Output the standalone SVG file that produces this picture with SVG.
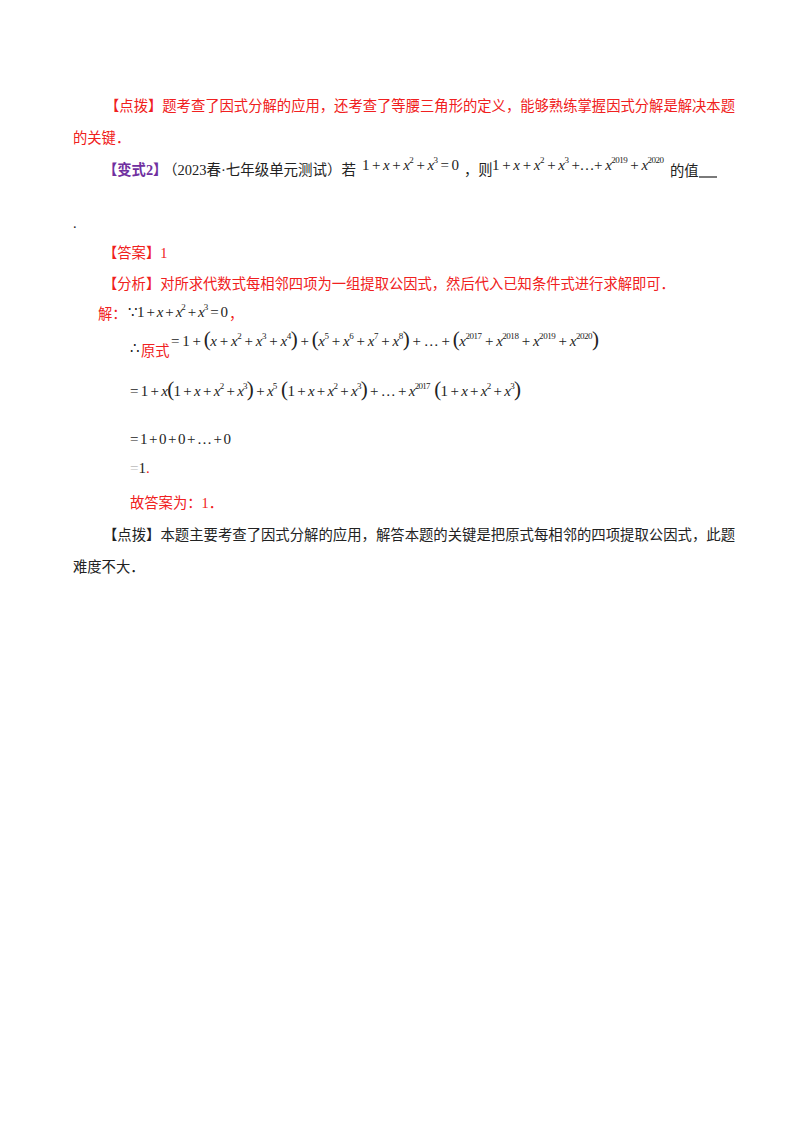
<svg xmlns="http://www.w3.org/2000/svg" width="800" height="1132" viewBox="0 0 800 1132">
<style>
.cn{font-family:"Liberation Serif","Noto Sans CJK SC",serif;font-size:14.3px}
.r{fill:#f02020}
.p{fill:#7030a0;font-weight:bold}
.k{fill:#222}
.m{font-family:"Liberation Serif",serif;font-size:15px;fill:#222}
.i{font-style:italic}
.s{font-size:9px}
.b{font-size:21px}
</style>
<rect width="800" height="1132" fill="#fff"/>
<g id="tip1" class="cn r">
<text x="105" y="111" textLength="630" lengthAdjust="spacingAndGlyphs">【点拨】题考查了因式分解的应用，还考查了等腰三角形的定义，能够熟练掌握因式分解是解决本题</text>
<text x="73" y="143">的关键．</text>
</g>
<g id="variant">
<text class="cn p" x="103" y="175">【变式2】</text>
<text class="cn k" x="163" y="175" textLength="193" lengthAdjust="spacingAndGlyphs">（2023春·七年级单元测试）若</text>
<text class="m" x="362" y="170" textLength="97" lengthAdjust="spacing">1 + <tspan class="i">x</tspan> + <tspan class="i">x</tspan><tspan class="s" dy="-7">2</tspan><tspan dy="7"> + </tspan><tspan class="i">x</tspan><tspan class="s" dy="-7">3</tspan><tspan dy="7"> = 0</tspan></text>
<text class="cn k" x="464" y="175">，则</text>
<text class="m" x="492" y="170" textLength="172" lengthAdjust="spacing">1 + <tspan class="i">x</tspan> + <tspan class="i">x</tspan><tspan class="s" dy="-7">2</tspan><tspan dy="7"> + </tspan><tspan class="i">x</tspan><tspan class="s" dy="-7">3</tspan><tspan dy="7"> +…+ </tspan><tspan class="i">x</tspan><tspan class="s" dy="-7">2019</tspan><tspan dy="7"> + </tspan><tspan class="i">x</tspan><tspan class="s" dy="-7">2020</tspan></text>
<text class="cn k" x="670" y="176">的值</text>
<line x1="699" y1="177" x2="717" y2="177" stroke="#222" stroke-width="1.2"/>
<text class="cn k" x="73" y="228">.</text>
</g>
<g id="answer" class="cn r">
<text x="103" y="258">【答案】1</text>
<text x="103" y="289">【分析】对所求代数式每相邻四项为一组提取公因式，然后代入已知条件式进行求解即可．</text>
</g>
<g id="solution">
<text class="cn r" x="98" y="319">解：</text>
<text class="m" x="128" y="317" textLength="100" lengthAdjust="spacing">∵1 + <tspan class="i">x</tspan> + <tspan class="i">x</tspan><tspan class="s" dy="-7">2</tspan><tspan dy="7"> + </tspan><tspan class="i">x</tspan><tspan class="s" dy="-7">3</tspan><tspan dy="7"> = 0</tspan></text>
<text class="cn r" x="229" y="319">，</text>
<text class="m" x="130" y="353">∴</text>
<text class="cn r" x="141" y="356">原式</text>
<text class="m" x="171" y="346" textLength="428" lengthAdjust="spacing">= 1 + <tspan class="b">(</tspan><tspan class="i">x</tspan> + <tspan class="i">x</tspan><tspan class="s" dy="-7">2</tspan><tspan dy="7"> + </tspan><tspan class="i">x</tspan><tspan class="s" dy="-7">3</tspan><tspan dy="7"> + </tspan><tspan class="i">x</tspan><tspan class="s" dy="-7">4</tspan><tspan dy="7" class="b">)</tspan> + <tspan class="b">(</tspan><tspan class="i">x</tspan><tspan class="s" dy="-7">5</tspan><tspan dy="7"> + </tspan><tspan class="i">x</tspan><tspan class="s" dy="-7">6</tspan><tspan dy="7"> + </tspan><tspan class="i">x</tspan><tspan class="s" dy="-7">7</tspan><tspan dy="7"> + </tspan><tspan class="i">x</tspan><tspan class="s" dy="-7">8</tspan><tspan dy="7" class="b">)</tspan> + … + <tspan class="b">(</tspan><tspan class="i">x</tspan><tspan class="s" dy="-7">2017</tspan><tspan dy="7"> + </tspan><tspan class="i">x</tspan><tspan class="s" dy="-7">2018</tspan><tspan dy="7"> + </tspan><tspan class="i">x</tspan><tspan class="s" dy="-7">2019</tspan><tspan dy="7"> + </tspan><tspan class="i">x</tspan><tspan class="s" dy="-7">2020</tspan><tspan dy="7" class="b">)</tspan></text>
<text class="m" x="130" y="396" textLength="391" lengthAdjust="spacing">= 1 + <tspan class="i">x</tspan><tspan class="b">(</tspan>1 + <tspan class="i">x</tspan> + <tspan class="i">x</tspan><tspan class="s" dy="-7">2</tspan><tspan dy="7"> + </tspan><tspan class="i">x</tspan><tspan class="s" dy="-7">3</tspan><tspan dy="7" class="b">)</tspan> + <tspan class="i">x</tspan><tspan class="s" dy="-7">5</tspan><tspan dy="7" class="b"> (</tspan>1 + <tspan class="i">x</tspan> + <tspan class="i">x</tspan><tspan class="s" dy="-7">2</tspan><tspan dy="7"> + </tspan><tspan class="i">x</tspan><tspan class="s" dy="-7">3</tspan><tspan dy="7" class="b">)</tspan> + … + <tspan class="i">x</tspan><tspan class="s" dy="-7">2017</tspan><tspan dy="7" class="b"> (</tspan>1 + <tspan class="i">x</tspan> + <tspan class="i">x</tspan><tspan class="s" dy="-7">2</tspan><tspan dy="7"> + </tspan><tspan class="i">x</tspan><tspan class="s" dy="-7">3</tspan><tspan dy="7" class="b">)</tspan></text>
<text class="m" x="130" y="444" textLength="101" lengthAdjust="spacing">= 1 + 0 + 0 + … + 0</text>
<text class="m" x="130" y="473"><tspan fill="#bbb">=</tspan>1<tspan fill="#f02020">.</tspan></text>
<text class="cn r" x="130" y="508">故答案为：1．</text>
</g>
<g id="tip2" class="cn k">
<text x="103" y="540" textLength="632" lengthAdjust="spacingAndGlyphs">【点拨】本题主要考查了因式分解的应用，解答本题的关键是把原式每相邻的四项提取公因式，此题</text>
<text x="73" y="572">难度不大．</text>
</g>
</svg>
